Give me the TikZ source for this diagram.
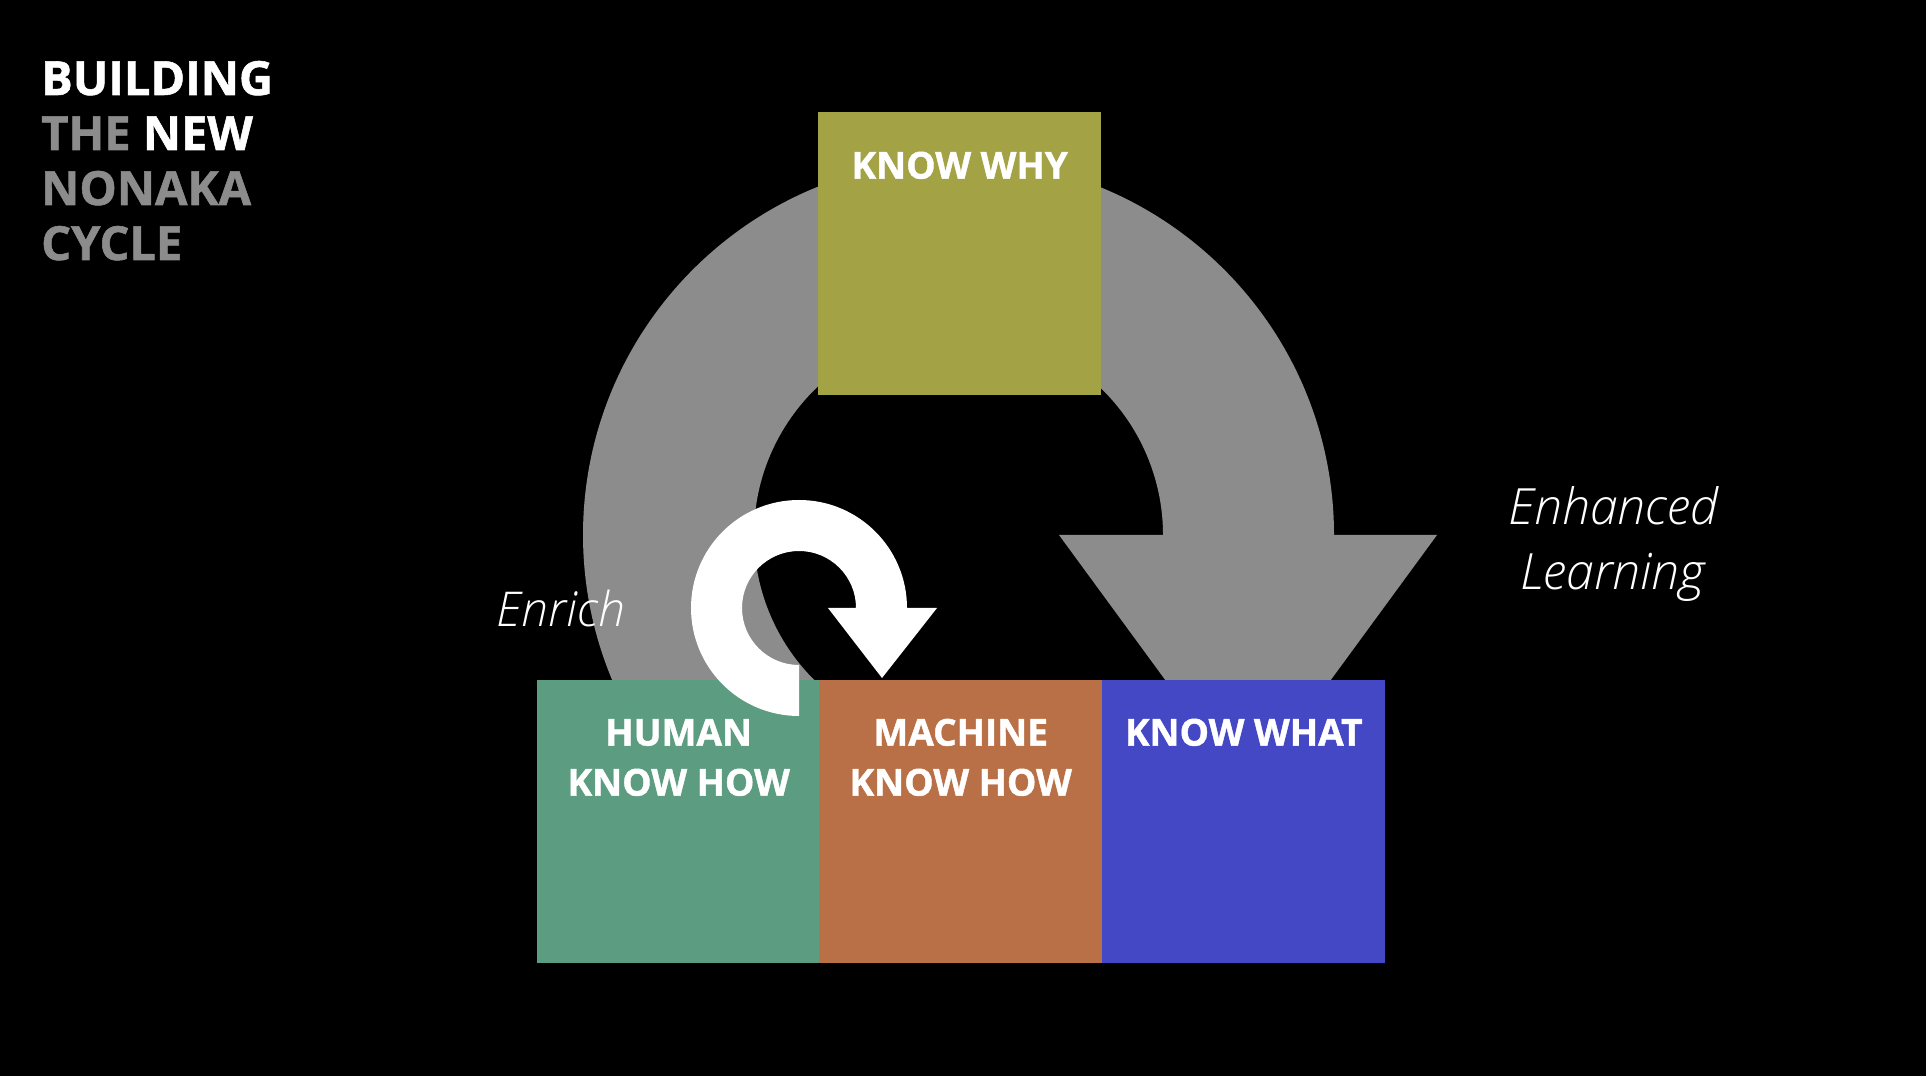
\documentclass[tikz,border=0pt]{standalone}
\usepackage{fontspec}
\usetikzlibrary{calc}
\setmainfont{Open Sans}
\newfontfamily\lightit{Open Sans Light Italic}
\newfontfamily\xbold{Open Sans}[BoldFeatures={FakeBold=1.2}]
\definecolor{ringgray}{HTML}{8C8C8C}
\definecolor{whyc}{HTML}{A3A245}
\definecolor{humanc}{HTML}{5C9C80}
\definecolor{machc}{HTML}{BA7046}
\definecolor{whatc}{HTML}{4448C4}
\begin{document}
\begin{tikzpicture}[x=1pt,y=1pt,
  sq/.style={draw=none,minimum width=283pt,minimum height=283pt,inner sep=0pt,anchor=south west},
  boxtxt/.style={text=white,font=\fontsize{37}{44}\selectfont\xbold\bfseries,anchor=base,inner sep=0pt},
  ttl/.style={font=\fontsize{47}{55}\selectfont\xbold\bfseries,anchor=base west,inner sep=0pt},
  note/.style={text=white,font=\fontsize{50}{60}\selectfont\lightit,anchor=base,inner sep=0pt}]
\fill[black] (0,0) rectangle (1926,1076);
\useasboundingbox (0,0) rectangle (1926,1076);
% gray ring arrow
\fill[ringgray] (958.5,541) ++(0:375.5) arc[start angle=0,end angle=235,radius=375.5]
  -- ($(958.5,541)+(235:204.5)$) arc[start angle=235,end angle=0,radius=204.5] -- cycle;
\fill[ringgray] (1059,541) -- (1437,541) -- (1248,283) -- cycle;
% boxes
\node[sq,fill=whyc] (why) at (818,680.5) {};
\node[sq,fill=humanc] (human) at (537,113) {};
\node[sq,fill=machc] (machine) at (819,113) {};
\node[sq,fill=whatc] (what) at (1102,113) {};
\node[boxtxt] (whyt) at ([yshift=-66.5pt]why.north) {KNOW WHY};
\node[boxtxt] (humant1) at ([yshift=-66pt]human.north) {HUMAN};
\node[boxtxt] (humant2) at ([yshift=-116pt]human.north) {KNOW HOW};
\node[boxtxt] (macht1) at ([yshift=-66pt]machine.north) {MACHINE};
\node[boxtxt] (macht2) at ([yshift=-116pt]machine.north) {KNOW HOW};
\node[boxtxt] (whatt) at ([yshift=-66pt]what.north) {KNOW WHAT};
% white curved arrow
\fill[white] (799,360) arc[start angle=270,end angle=0,radius=108]
  -- (937,468) -- (882,398) -- (828,468) -- (856,468)
  arc[start angle=0,end angle=270,radius=57] -- cycle;
% labels
\node[note] (enh) at (1613,551) {Enhanced};
\node[note] (lea) at (1613,486) {Learning};
\node[note,font=\fontsize{48}{58}\selectfont\lightit] (enr) at (561,449) {Enrich};
% title
\node[ttl,text=white] (t1) at (41,981) {BUILDING};
\node[ttl] (t2) at (41,926) {\textcolor{ringgray}{THE} \textcolor{white}{NEW}};
\node[ttl,text=ringgray] (t3) at (41,871) {NONAKA};
\node[ttl,text=ringgray] (t4) at (41,816) {CYCLE};
\end{tikzpicture}
\end{document}
